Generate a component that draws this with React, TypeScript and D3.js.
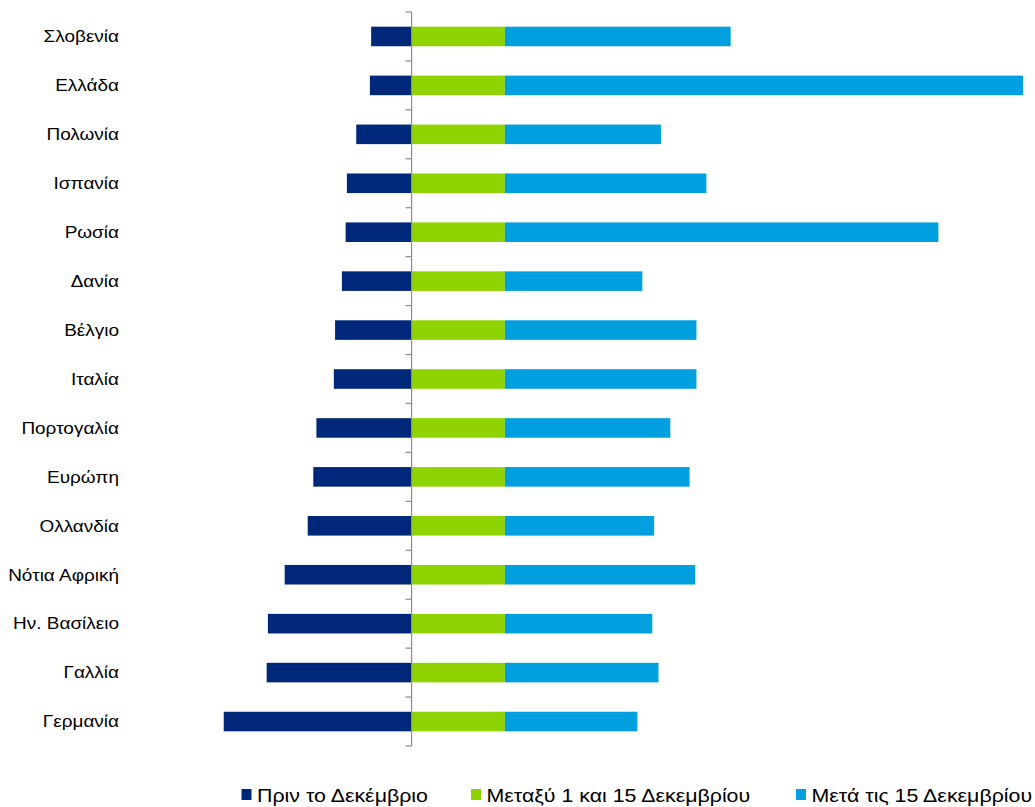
import React from "react";
import * as d3 from "d3";

const countries = [
  "Σλοβενία",
  "Ελλάδα",
  "Πολωνία",
  "Ισπανία",
  "Ρωσία",
  "Δανία",
  "Βέλγιο",
  "Ιταλία",
  "Πορτογαλία",
  "Ευρώπη",
  "Ολλανδία",
  "Νότια Αφρική",
  "Ην. Βασίλειο",
  "Γαλλία",
  "Γερμανία",
];

// days before December (drawn to the left of the axis)
const beforeDec = [6.5, 6.7, 8.9, 10.4, 10.6, 11.2, 12.3, 12.5, 15.3, 15.8, 16.7, 20.4, 23.1, 23.3, 30.2];
// 1-15 December
const firstHalf = [15, 15, 15, 15, 15, 15, 15, 15, 15, 15, 15, 15, 15, 15, 15];
// after 15 December
const afterMid = [36.3, 83.3, 25.1, 32.4, 69.7, 22.1, 30.8, 30.8, 26.6, 29.7, 24.0, 30.6, 23.7, 24.7, 21.3];

const seriesNames = ["Πριν το Δεκέμβριο", "Μεταξύ 1 και 15 Δεκεμβρίου", "Μετά τις 15 Δεκεμβρίου"];
const colors = ["#00287a", "#8fd400", "#009fdf"];

const W = 1035;
const H = 807;

export default function App() {
  const ref = React.useRef<SVGSVGElement | null>(null);

  React.useEffect(() => {
    if (!ref.current) return;
    const svg = d3.select(ref.current);
    svg.selectAll("*").remove();
    const font = "'Liberation Sans', Arial, sans-serif";

    const x = d3.scaleLinear().domain([-30.8, 98.4]).range([220, 1023.6]);
    const y = d3
      .scaleBand<string>()
      .domain(countries)
      .range([12, 746])
      .paddingInner(0.6)
      .paddingOuter(0.3);

    const rows = countries.map((c, i) => ({
      c,
      segs: [
        [-beforeDec[i], 0],
        [0, firstHalf[i]],
        [firstHalf[i], firstHalf[i] + afterMid[i]],
      ],
    }));

    const g = svg.append("g");
    rows.forEach(r => {
      r.segs.forEach((s, k) => {
        g.append("rect")
          .attr("x", x(s[0]))
          .attr("y", y(r.c)!)
          .attr("width", x(s[1]) - x(s[0]))
          .attr("height", y.bandwidth())
          .attr("fill", colors[k]);
      });
    });

    // vertical category axis at zero
    const x0 = x(0);
    const axis = svg.append("g").attr("stroke", "#8c8c8c").attr("stroke-width", 1.2);
    axis.append("line").attr("x1", x0).attr("x2", x0).attr("y1", 12).attr("y2", 746);
    const step = y.step();
    d3.range(countries.length + 1).forEach(i => {
      const yy = 12 + i * step;
      axis.append("line").attr("x1", x0 - 6).attr("x2", x0).attr("y1", yy).attr("y2", yy);
    });

    // labels are a bit wider than plain Arial in the original
    svg
      .append("g")
      .selectAll("text")
      .data(countries)
      .join("text")
      .attr("transform", d => `translate(119,${y(d)! + y.bandwidth() / 2}) scale(1.15,1)`)
      .attr("dy", "0.35em")
      .attr("text-anchor", "end")
      .attr("font-family", font)
      .attr("font-size", 16.5)
      .attr("fill", "#000")
      .text(d => d);

    // legend
    const legX = [241.5, 471, 796];
    const leg = svg.append("g");
    seriesNames.forEach((n, k) => {
      leg.append("rect").attr("x", legX[k]).attr("y", 789).attr("width", 10).attr("height", 11).attr("fill", colors[k]);
      leg.append("text")
        .attr("transform", `translate(${legX[k] + 15.5},801.5) scale(1.155,1)`)
        .attr("font-family", font)
        .attr("font-size", 18.5)
        .attr("fill", "#000")
        .text(n);
    });
  }, []);

  return (
    <svg
      ref={ref}
      width={W}
      height={H}
      style={{ position: "absolute", left: 0, top: 0, background: "#fff" }}
    ></svg>
  );
}
